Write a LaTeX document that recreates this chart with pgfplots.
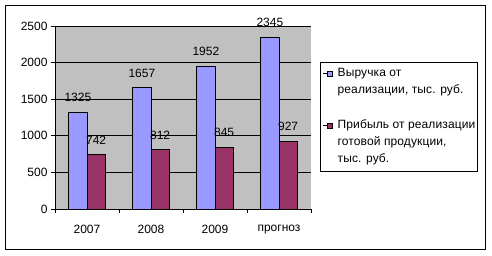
\documentclass[border=0pt]{standalone}
\usepackage{fontspec}
\setmainfont{Liberation Sans}
\newfontfamily\legfont[LetterSpace=1]{Liberation Sans}
\usepackage{pgfplots}
\pgfplotsset{compat=1.18}
\definecolor{xblue}{RGB}{153,153,255}
\definecolor{xmaroon}{RGB}{153,51,102}
\definecolor{xgray}{RGB}{192,192,192}
\pgfplotsset{sqlegend/.style={legend image code/.code={\path (-4pt,0pt) -- (5pt,0pt); \draw[##1,draw=black,line width=0.6pt] (0pt,-2.5pt) rectangle (5pt,2.5pt);}}}
\begin{document}
\begin{tikzpicture}[x=1pt,y=1pt]
\useasboundingbox (0,0) rectangle (492,256);
\draw[line width=1pt] (5.7,6) rectangle (485,250.3);
\begin{axis}[
  at={(55pt,47pt)}, anchor=south west,
  scale only axis, width=256pt, height=183pt,
  ybar=0pt, bar width=18.3pt,
  xmin=-0.5, xmax=3.5, ymin=0, ymax=2500,
  xtick={0,1,2,3}, xticklabels={2007,2008,2009,прогноз},
  minor xtick={-0.5,0.5,1.5,2.5,3.5},
  ytick={0,500,1000,1500,2000,2500},
  axis x line*=bottom, axis y line*=left,
  axis line style={black, line width=0.8pt},
  axis background/.style={fill=xgray},
  ymajorgrids, major grid style={black, line width=0.8pt},
  tick align=outside,
  major x tick style={draw=none},
  minor tick length=4pt, major tick length=4pt,
  tick style={black, line width=0.8pt},
  /pgf/number format/1000 sep={},
  /pgf/number format/assume math mode=true,
  ticklabel style={font=\fontsize{12}{14}\selectfont},
  xticklabel style={yshift=-9pt},
  yticklabel style={xshift=0pt},
  nodes near coords,
  every node near coord/.append style={font=\fontsize{12}{14}\selectfont, anchor=south, inner sep=0pt, yshift=10pt, black},
  legend style={at={(axis description cs:1.035,0.803)}, anchor=north west,
    draw=black, line width=0.8pt, fill=white, font=\legfont\fontsize{12}{14}\selectfont,
    nodes={inner sep=0pt, text height=9pt, text depth=3pt},
    cells={anchor=west}, row sep=5.3pt, column sep=5pt, inner xsep=2.5pt, inner ysep=5pt},
]
\addplot[fill=xblue, draw=black, line width=0.8pt, bar shift=-9.15pt, sqlegend] coordinates {(0,1325) (1,1657) (2,1952) (3,2345)};
\addlegendentry{Выручка от}
\addlegendimage{empty legend}
\addlegendentry{реализации, тыс. руб.}
\addlegendimage{empty legend}
\addlegendentry{\mbox{}}
\addplot[fill=xmaroon, draw=black, line width=0.8pt, bar shift=9.15pt, sqlegend] coordinates {(0,742) (1,812) (2,845) (3,927)};
\addlegendentry{Прибыль от реализации}
\addlegendimage{empty legend}
\addlegendentry{готовой продукции,}
\addlegendimage{empty legend}
\addlegendentry{тыс. руб.}
\end{axis}
\end{tikzpicture}
\end{document}
